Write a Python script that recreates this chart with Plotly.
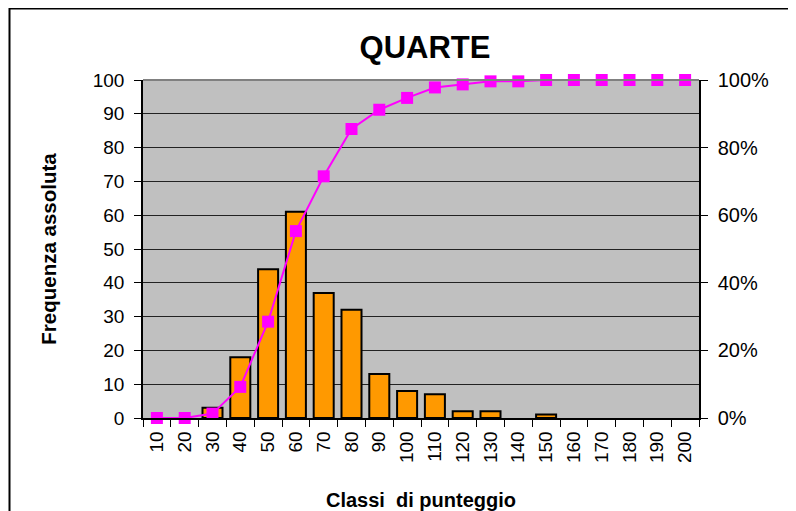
import plotly.graph_objects as go

categories = ["10", "20", "30", "40", "50", "60", "70", "80", "90", "100",
              "110", "120", "130", "140", "150", "160", "170", "180", "190", "200"]
frequenza = [0, 0, 3, 18, 44, 61, 37, 32, 13, 8, 7, 2, 2, 0, 1, 0, 0, 0, 0, 0]
cumulata_pct = [0.0, 0.0, 0.013, 0.092, 0.285, 0.553, 0.715, 0.855, 0.912, 0.947,
                0.978, 0.987, 0.996, 0.996, 1.0, 1.0, 1.0, 1.0, 1.0, 1.0]
left_ticks = [0, 10, 20, 30, 40, 50, 60, 70, 80, 90, 100]

FONT = "Liberation Sans, Arial, sans-serif"
# page body has an 8px margin; figure coordinates = page coordinates - 8
W, H = 788, 503
L, R, T, B = 135, 97, 72, 93
pw, ph = W - L - R, H - T - B


def px_x(fx):
    return (fx - L) / pw


def px_y(fy):
    return (T + ph - fy) / ph


fig = go.Figure()
fig.add_trace(go.Bar(
    x=categories, y=frequenza,
    marker=dict(color="#FF9900",
                line=dict(color="black", width=[2 if v > 0 else 0 for v in frequenza])),
    yaxis="y", showlegend=False,
))
fig.add_trace(go.Scatter(
    x=categories, y=cumulata_pct, mode="lines+markers",
    line=dict(color="#FF00FF", width=2),
    marker=dict(symbol="square", size=12, color="#FF00FF"),
    yaxis="y2", showlegend=False, cliponaxis=False,
))

# outer border of chart area
fig.add_shape(type="rect", xref="paper", yref="paper",
              x0=px_x(1.5), x1=px_x(820),
              y0=px_y(540), y1=px_y(0.5),
              line=dict(color="black", width=2), fillcolor="rgba(0,0,0,0)", layer="below")

fig.update_layout(
    width=W, height=H,
    margin=dict(l=L, r=R, t=T, b=B, autoexpand=False),
    paper_bgcolor="white", plot_bgcolor="#C0C0C0",
    bargap=0.28,
    font=dict(family=FONT, color="black", size=19),
    title=dict(text="<b>QUARTE</b>", x=(425 - 8) / W, xanchor="center",
               y=1 - (47 - 8) / H, yanchor="middle", font=dict(size=31, family=FONT)),
    xaxis=dict(type="category", range=[-0.5, 19.5], tickson="boundaries", automargin=False,
               ticks="outside", ticklen=7, tickcolor="black", tickwidth=1,
               tickangle=-90, tickfont=dict(size=19), ticklabelstandoff=4,
               showline=True, linecolor="black", linewidth=1.5, showgrid=False,
               title=dict(text="<b>Classi  di punteggio</b>", font=dict(size=20), standoff=36)),
    yaxis=dict(range=[0, 100], tickvals=left_ticks, ticks="outside", ticklen=7, automargin=False,
               tickcolor="black", showline=True, linecolor="black", linewidth=1.5,
               gridcolor="#222222", gridwidth=1, zeroline=False,
               tickfont=dict(size=19), ticklabelstandoff=6,
               title=dict(text="<b>Frequenza assoluta</b>", font=dict(size=20.5), standoff=31)),
    yaxis2=dict(range=[0, 1], overlaying="y", side="right", dtick=0.2, automargin=False,
                tickformat=".0%", ticks="outside", ticklen=7, tickcolor="black",
                ticklabelstandoff=6,
                showline=True, linecolor="black", linewidth=1.5, showgrid=False,
                zeroline=False, tickfont=dict(size=20)),
)
fig.add_shape(type="line", xref="paper", yref="paper", x0=0, x1=1, y0=1, y1=1,
              line=dict(color="#808080", width=2))

fig.write_html("out.html")
